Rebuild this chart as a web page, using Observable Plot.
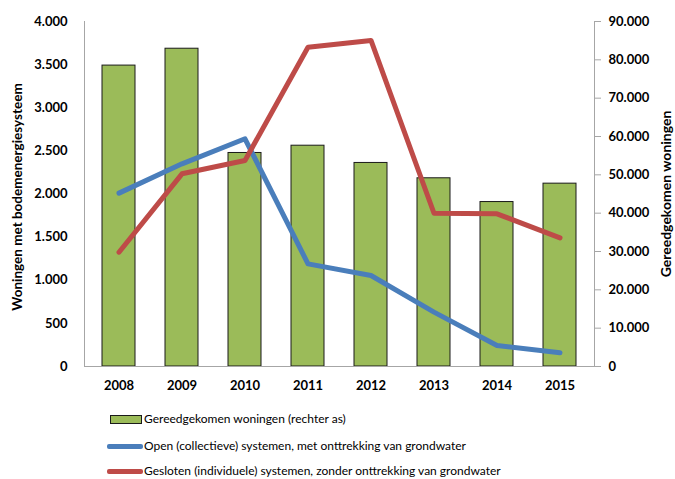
<!DOCTYPE html>
<html>
<head>
<meta charset="utf-8">
<script src="https://cdn.jsdelivr.net/npm/d3@7"></script>
<script src="https://cdn.jsdelivr.net/npm/@observablehq/plot@0.6"></script>
<style>
  body { margin: 0; background: #fff; }
  #wrap { position: relative; width: 675px; height: 479px; overflow: hidden; font-family: Lato, "Liberation Sans", sans-serif; }
  .lg { position: absolute; left: 144px; font-size: 12px; color: #000; line-height: 14px; white-space: nowrap; }
  .sw { position: absolute; }
</style>
</head>
<body>
<div id="wrap"></div>
<script>
const years = ["2008","2009","2010","2011","2012","2013","2014","2015"];
const completedHomes = [78500, 82900, 55700, 57600, 53100, 49100, 42900, 47700]; // right axis
const openSystems = [2010, 2350, 2640, 1190, 1055, 630, 243, 159];
const closedSystems = [1325, 2234, 2388, 3702, 3780, 1777, 1770, 1492];
const leftTicks = [0, 500, 1000, 1500, 2000, 2500, 3000, 3500, 4000];
const rightTicks = [0, 10000, 20000, 30000, 40000, 50000, 60000, 70000, 80000, 90000];
const leftMax = 4000, rightMax = 90000;

const nl = d3.formatLocale({decimal: ",", thousands: ".", grouping: [3], currency: ["", ""]});
const fmt = nl.format(",");
const k = leftMax / rightMax;

const bars = years.map((y, i) => ({year: y, v: completedHomes[i] * k}));
const open = years.map((y, i) => ({year: y, v: openSystems[i]}));
const closed = years.map((y, i) => ({year: y, v: closedSystems[i]}));

const chart = Plot.plot({
  width: 675,
  height: 395,
  marginLeft: 84,
  marginRight: 81,
  marginTop: 21,
  marginBottom: 29,
  style: {fontFamily: "Lato, 'Liberation Sans', sans-serif", background: "#fff", overflow: "visible"},
  x: {domain: years, paddingInner: 0.47, paddingOuter: 0.235},
  y: {domain: [0, leftMax]},
  marks: [
    Plot.barY(bars, {x: "year", y: "v", fill: "#9BBB59", stroke: "#1a1a1a", strokeWidth: 1}),
    Plot.ruleY([0], {stroke: "#A6A6A6", strokeWidth: 1}),
    Plot.frame({anchor: "left", stroke: "#A6A6A6"}),
    Plot.frame({anchor: "right", stroke: "#A6A6A6"}),
    Plot.lineY(open, {x: "year", y: "v", stroke: "#4A7EBB", strokeWidth: 5, strokeLinejoin: "round", strokeLinecap: "round"}),
    Plot.lineY(closed, {x: "year", y: "v", stroke: "#BE4B48", strokeWidth: 5, strokeLinejoin: "round", strokeLinecap: "round"}),
    Plot.axisY(leftTicks, {anchor: "left", tickSize: 0, tickPadding: 17, tickFormat: fmt, fontSize: 13, fontWeight: "bold", label: null}),
    Plot.axisY(rightTicks.map(d => d * k), {anchor: "right", tickSize: 6, tickPadding: 8, stroke: "#A6A6A6", tickFormat: d => fmt(Math.round(d / k)), fontSize: 13, fontWeight: "bold", label: null}),
    Plot.axisX({tickSize: 0, tickPadding: 14, fontSize: 13, fontWeight: "bold", label: null}),
    Plot.text(["Woningen met bodemenergiesysteem"], {frameAnchor: "left", textAnchor: "middle", rotate: -90, dx: -67, dy: 3, fontSize: 13.5, fontWeight: "bold", text: d => d}),
    Plot.text(["Gereedgekomen woningen"], {frameAnchor: "right", textAnchor: "middle", rotate: -90, dx: 72, dy: 0, fontSize: 14, fontWeight: "bold", text: d => d})
  ]
});

const wrap = document.getElementById("wrap");
wrap.appendChild(chart);

const legend = [
  {label: "Gereedgekomen woningen (rechter as)", type: "rect", color: "#9BBB59", y: 419},
  {label: "Open (collectieve) systemen, met onttrekking van grondwater", type: "line", color: "#4A7EBB", y: 446},
  {label: "Gesloten (individuele) systemen, zonder onttrekking van grondwater", type: "line", color: "#BE4B48", y: 471}
];
legend.forEach(l => {
  const sw = document.createElement("div");
  sw.className = "sw";
  if (l.type === "rect") {
    Object.assign(sw.style, {left: "110px", top: (l.y - 4.5) + "px", width: "30px", height: "7px", background: l.color, border: "1px solid #1a1a1a"});
  } else {
    Object.assign(sw.style, {left: "107px", top: (l.y - 2.5) + "px", width: "36px", height: "5px", background: l.color, borderRadius: "2px"});
  }
  wrap.appendChild(sw);
  const t = document.createElement("div");
  t.className = "lg";
  t.textContent = l.label;
  t.style.top = (l.y - 7) + "px";
  wrap.appendChild(t);
});
</script>
</body>
</html>
